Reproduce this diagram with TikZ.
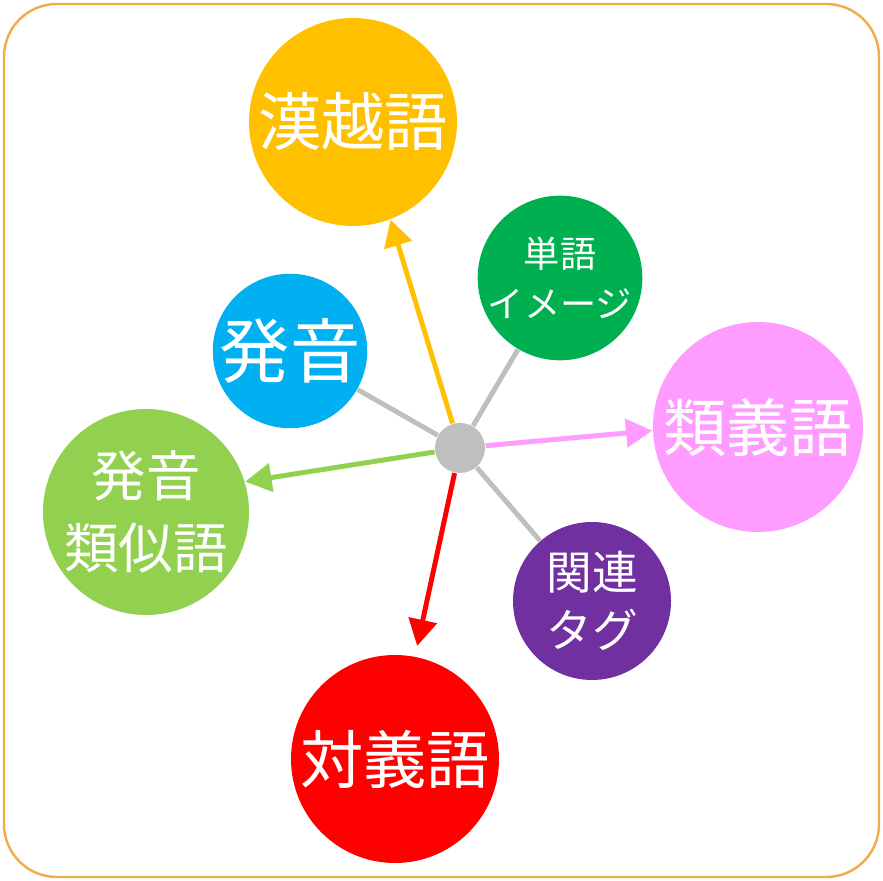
\documentclass[tikz,border=0pt]{standalone}
\usepackage{fontspec}
\setmainfont{Noto Sans CJK JP}
\usetikzlibrary{positioning, arrows.meta}

\definecolor{frameorange}{HTML}{F2AC48}
\definecolor{hubgray}{HTML}{BFBFBF}
\definecolor{kanetsuyellow}{HTML}{FFC000}
\definecolor{tangogreen}{HTML}{00B050}
\definecolor{hatsuonblue}{HTML}{00B0F0}
\definecolor{ruigipink}{HTML}{FF9CFF}
\definecolor{ruijigreen}{HTML}{92D050}
\definecolor{kanrenpurple}{HTML}{7030A0}
\definecolor{taigired}{HTML}{FF0000}

\begin{document}
\begin{tikzpicture}[
    x=0.1mm, y=-0.1mm,
    bubble/.style={
        circle,
        inner sep=0pt,
        text=white,
        align=center
    },
    arrow/.style={
        -{Triangle[length=7.5pt,width=8pt]},
        line width=1.4pt
    },
    link/.style={
        line width=1.4pt,
        color=hubgray
    }
]

\useasboundingbox (0,0) rectangle (883,881);

% Frame
\draw[frameorange, line width=0.7pt, rounded corners=15pt] (4,4) rectangle (879,877);

% Nodes
\node[bubble, fill=hubgray, minimum size=5mm] (hub) at (460,448) {};
\node[bubble, fill=kanetsuyellow, minimum size=20.8mm, font=\fontsize{18}{22}\selectfont]
    (kanetsu) at (353,122) {漢越語};
\node[bubble, fill=tangogreen, minimum size=15.6mm, font=\fontsize{10.3}{14}\selectfont]
    (tango) at (560,278) {単語\\イメージ};
\node[bubble, fill=hatsuonblue, minimum size=15.2mm, font=\fontsize{20}{24}\selectfont]
    (hatsuon) at (290,351) {発音};
\node[bubble, fill=ruigipink, minimum size=21mm, font=\fontsize{18}{22}\selectfont]
    (ruigi) at (758,427) {類義語};
\node[bubble, fill=ruijigreen, minimum size=20.6mm, font=\fontsize{15.5}{20.5}\selectfont]
    (ruiji) at (146,512) {発音\\類似語};
\node[bubble, fill=kanrenpurple, minimum size=15.8mm, font=\fontsize{13}{16.5}\selectfont]
    (kanren) at (592,601) {関連\\タグ};
\node[bubble, fill=taigired, minimum size=20.8mm, font=\fontsize{18}{22}\selectfont]
    (taigi) at (395,759) {対義語};

% Plain links
\draw[link] (hub) -- (tango);
\draw[link] (hub) -- (hatsuon);
\draw[link] (hub) -- (kanren);

% Arrows
\draw[arrow, kanetsuyellow] (hub) -- (kanetsu.-69);
\draw[arrow, ruigipink] (hub) -- (ruigi.182);
\draw[arrow, ruijigreen] (hub) -- (ruiji.17);
\draw[arrow, taigired, shorten >=3pt] (hub) -- (taigi.79);

\end{tikzpicture}
\end{document}
